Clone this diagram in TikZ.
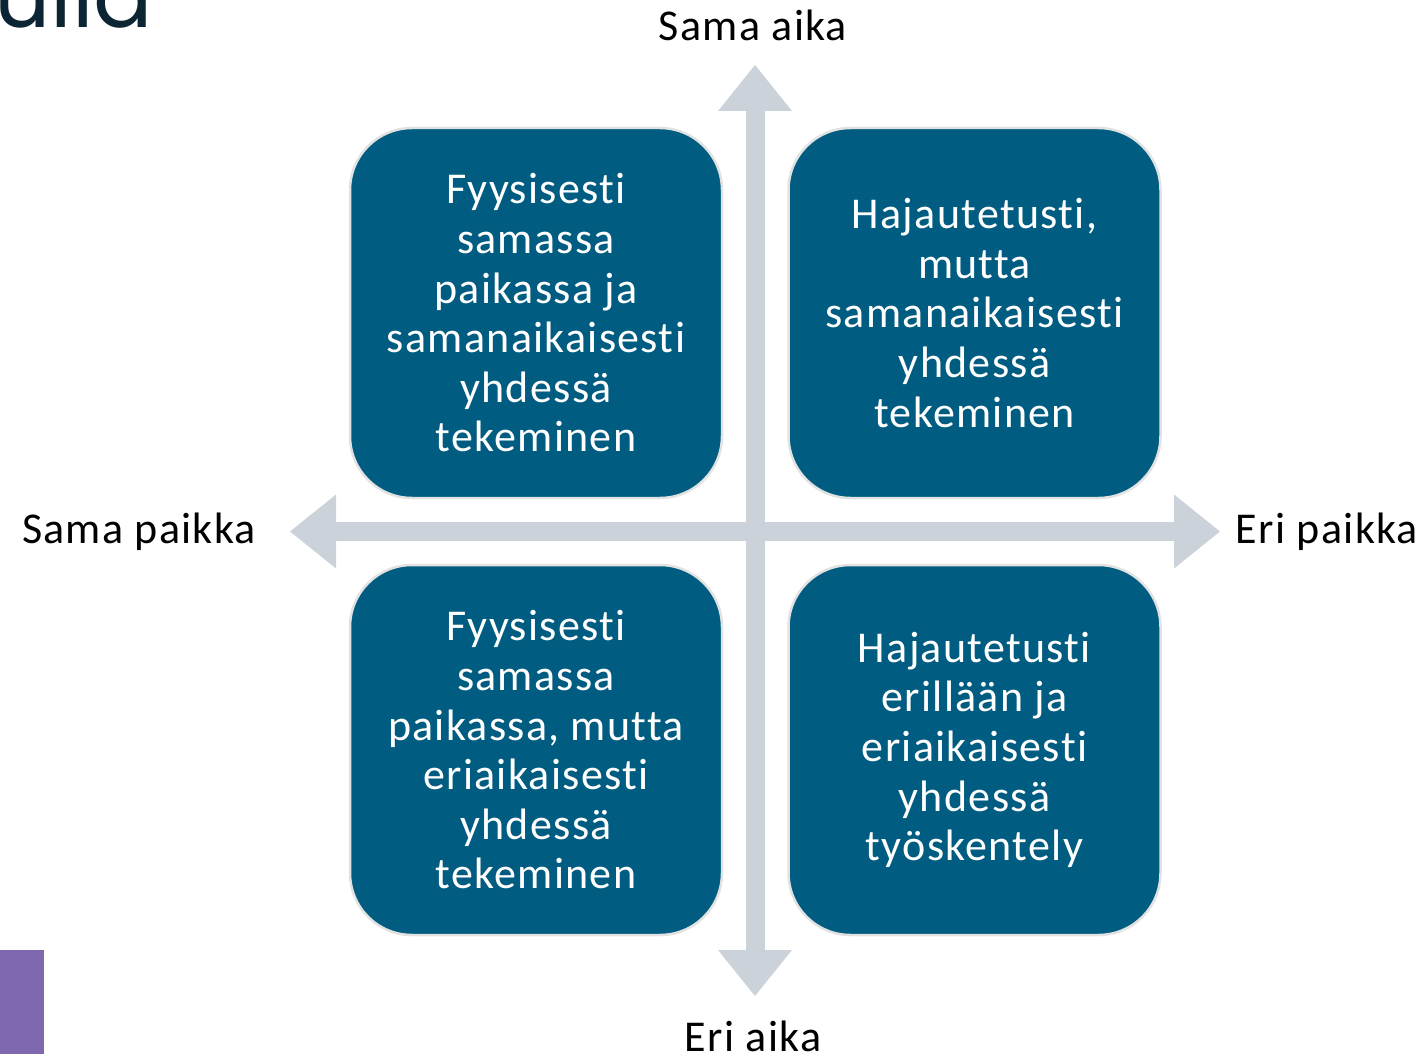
\documentclass[tikz,border=0pt]{standalone}
\usepackage{fontspec}
\setmainfont{Carlito}[LetterSpace=3,Ligatures=NoCommon]
\newfontfamily\titlefont{Poppins}
\usetikzlibrary{arrows.meta}
\definecolor{boxblue}{RGB}{0,92,128}
\definecolor{axisgray}{RGB}{203,210,217}
\definecolor{boxedge}{RGB}{226,226,226}
\definecolor{titlenavy}{RGB}{12,37,52}
\definecolor{accentpurple}{RGB}{128,104,174}
\begin{document}
\begin{tikzpicture}[x=1pt,y=-1pt,
  quad/.style={draw=boxedge, line width=2.5pt, fill=boxblue, rounded corners=62pt,
    minimum width=372pt, minimum height=370pt, text=white, align=center,
    font=\fontsize{44}{49.6}\selectfont, inner sep=0pt},
  axislabel/.style={font=\fontsize{44}{48}\selectfont, text=black, inner sep=0pt, anchor=base},
  axis/.style={draw=axisgray, line width=19pt,
    {Triangle[width=74pt,length=46pt,line width=0pt]}-{Triangle[width=74pt,length=46pt,line width=0pt]}}]
\useasboundingbox (0,0) rectangle (1425,1054);
\begin{scope}
\clip (0,0) rectangle (1425,1054);
\node[anchor=base west, inner sep=0pt, font=\titlefont\fontsize{88}{88}\selectfont, text=titlenavy] (title) at (-6,28) {ulla};
\fill[accentpurple] (0,950) rectangle (44,1054);
\end{scope}
\coordinate (N) at (755,65);
\coordinate (S) at (755,996);
\coordinate (W) at (290,531.5);
\coordinate (E) at (1220,531.5);
\draw[axis] (N) -- (S);
\draw[axis] (W) -- (E);
\node[quad] (tl) at (536,313) {Fyysisesti\\samassa\\paikassa ja\\samanaikaisesti\\yhdessä\\tekeminen};
\node[quad] (tr) at (974.5,313) {Hajautetusti,\\mutta\\samanaikaisesti\\yhdessä\\tekeminen};
\node[quad] (bl) at (536,750) {Fyysisesti\\samassa\\paikassa, mutta\\eriaikaisesti\\yhdessä\\tekeminen};
\node[quad] (br) at (974.5,750) {Hajautetusti\\erillään ja\\eriaikaisesti\\yhdessä\\työskentely};
\node[axislabel] (sameTime) at (753,41) {Sama aika};
\node[axislabel] (samePlace) at (139,543) {Sama paikka};
\node[axislabel] (otherPlace) at (1327,543) {Eri paikka};
\node[axislabel] (otherTime) at (753,1051) {Eri aika};
\end{tikzpicture}
\end{document}
